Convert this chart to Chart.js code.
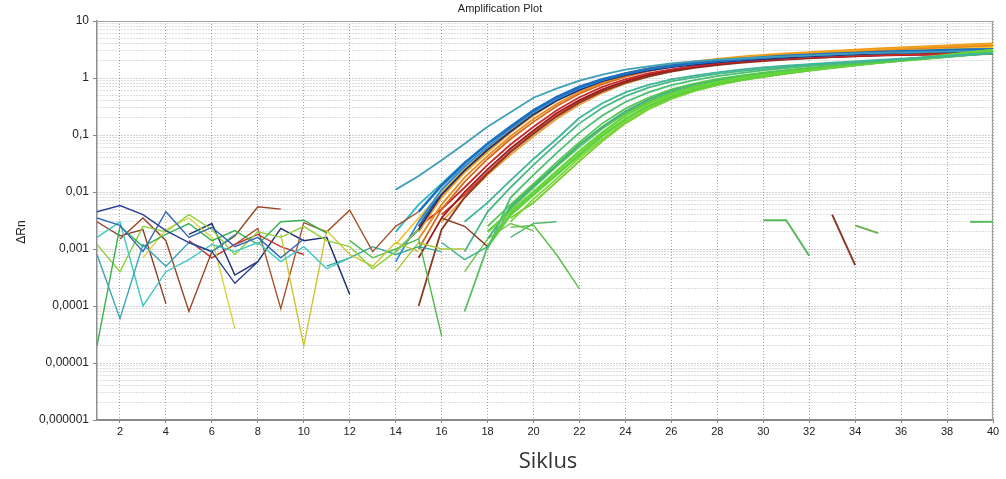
<!DOCTYPE html>
<html>
<head>
<meta charset="utf-8">
<script src="https://cdn.jsdelivr.net/npm/chart.js@4"></script>
<style>
  html,body{margin:0;padding:0;background:#fff;}
  #wrap{position:relative;width:1006px;height:479px;}
</style>
</head>
<body>
<div id="wrap"><canvas id="plot"></canvas></div>
<script>
/* ===== data ===== */
const xTicks = [2,4,6,8,10,12,14,16,18,20,22,24,26,28,30,32,34,36,38,40];
const yTickValues = [1e-6,1e-5,1e-4,1e-3,0.01,0.1,1,10];
const yTickLabels = ['0,000001','0,00001','0,0001','0,001','0,01','0,1','1','10'];

// baseline noise (start cycle + values, null = no point)
const noiseStart = [1,1,1,1,1,1,3,9,1,2,7,5,5,11,12,14,16,16,19,17,19];
const noiseValues = [
  [0.0045,0.0058,0.004,0.0021,0.0013,0.0009,0.00025,0.0006],
  [0.0035,0.0026,0.0009,0.0045,0.0016,0.0024,0.0011,0.0016,0.0007,0.0015],
  [0.0008,0.00006,0.0012,0.0005,0.0013,0.0009,0.0018],
  [0.0016,0.003,0.0001,0.0004,0.00065,0.0012,0.0009,0.0013,0.0006,0.0011,0.00045,0.0007],
  [0.00002,0.0025,0.0011,0.0018,0.0028,0.0014,0.0021,0.0012,0.003,0.0032,0.0019],
  [0.0012,0.0004,0.0025,0.002,0.004,0.0022,0.0008,0.002,0.0016,0.0025,0.0014,0.0011,0.00045,0.0009,0.0022],
  [0.0007,0.0022,0.0035,0.0016,0.00004],
  [0.0018,0.00002,0.0021,0.0008,0.0005,0.0013,0.0009],
  [0.003,0.0017,0.0022,0.00011],
  [0.0015,0.0035,0.0014,0.00008,0.0009,0.0017,0.0055,0.005],
  [0.0012,0.0023,0.00009,0.0029,0.002,0.0048,0.0009,0.0025,0.0045],
  [0.0014,0.0007,0.0012,0.0018,0.0011,0.0008],
  [0.0018,0.0028,0.00035,0.0006,0.0023,0.0014,0.0016,0.00016],
  [0.0005,0.0007,0.0011,0.0008,0.0011,0.0009],
  [0.0014,0.0007,0.001,0.0015,0.00003],
  [0.0004,0.0013,0.001,0.001],
  [0.0013,0.00065,0.0011],
  [0.0035,0.0025,0.0011],
  [0.0024,0.0026,0.0008,0.0002],
  [0.0004,0.0015,0.0028,0.0021],
  [0.0016,0.0028,0.003]
];
const noiseColors = ['#2a3f99','#3367b8','#3aa3b5','#3fc9c2','#36b24e','#8fd13f','#d9d33a','#c9c52e','#8c3b28','#9a4424',
  '#a5522c','#c23434','#1f2f70','#2fa897','#4fb84a','#a8c83a','#3db58a','#8a3a26','#5bbf45','#6cc448','#52b870'];

// late fragments after the curves have plateaued
const tailStart = [30,33,34,39];
const tailValues = [[0.0032,0.0032,0.00076],[0.004,0.00052],[0.0026,0.0019],[0.003,0.003]];
const tailColors = ['#5cb85c','#8b3a2a','#6ab04c','#5cb85c'];

// late (green) amplification curves
const lateStart = [17,17,18,18,18,18,19,18,19,17];
const lateValues = [
  [0.003,0.0065,0.016,0.038,0.085,0.2,0.36,0.56,0.76,0.95,1.1,1.25,1.4,1.53,1.64,1.75,1.85,1.96,2.07,2.18,2.3,2.43,2.57,2.72],
  [0.0009,0.0045,0.012,0.03,0.07,0.16,0.3,0.48,0.68,0.87,1.03,1.18,1.32,1.45,1.57,1.68,1.79,1.9,2.02,2.14,2.27,2.41,2.56,2.72],
  [0.001,0.008,0.02,0.048,0.11,0.22,0.38,0.56,0.75,0.92,1.08,1.22,1.36,1.49,1.61,1.73,1.85,1.98,2.12,2.27,2.43,2.6,2.78],
  [0.0025,0.006,0.014,0.033,0.075,0.16,0.29,0.45,0.63,0.8,0.96,1.1,1.24,1.37,1.5,1.63,1.76,1.9,2.05,2.21,2.38,2.56,2.75],
  [0.002,0.0045,0.01,0.023,0.052,0.11,0.22,0.36,0.52,0.69,0.85,1.0,1.14,1.28,1.42,1.56,1.71,1.87,2.04,2.22,2.42,2.64,2.88],
  [0.0011,0.004,0.009,0.02,0.045,0.097,0.19,0.32,0.47,0.63,0.79,0.94,1.08,1.22,1.37,1.52,1.68,1.85,2.03,2.23,2.45,2.7,2.98],
  [0.003,0.0075,0.017,0.04,0.085,0.17,0.29,0.44,0.6,0.76,0.91,1.05,1.2,1.35,1.51,1.68,1.86,2.06,2.28,2.52,2.8,3.1],
  [0.0015,0.0055,0.013,0.03,0.068,0.14,0.26,0.42,0.6,0.77,0.93,1.08,1.22,1.35,1.48,1.61,1.74,1.88,2.03,2.19,2.36,2.55,2.75],
  [0.0035,0.0065,0.015,0.035,0.078,0.16,0.28,0.43,0.59,0.75,0.9,1.05,1.2,1.36,1.53,1.71,1.9,2.1,2.32,2.56,2.83,3.15],
  [0.00008,0.0011,0.005,0.012,0.028,0.062,0.13,0.24,0.39,0.56,0.72,0.88,1.03,1.17,1.3,1.43,1.56,1.7,1.84,1.99,2.15,2.33,2.52,2.72]
];
const lateColors = ['#3fb59a','#48b884','#4cbf70','#55c850','#66d63a','#5fd03c','#72d835','#3dae7a','#7ccc30','#58c060'];

// early amplification bundle
const earlyStart = [14,15,14,14,14,15,15,14,15,15,15,15,16,16,15,15];
const earlyValues = [
  [0.011,0.019,0.036,0.07,0.14,0.25,0.45,0.65,0.9,1.15,1.4,1.6,1.8,1.95,2.1,2.2,2.3,2.4,2.5,2.6,2.7,2.75,2.8,2.85,2.9,2.95,3.0],
  [0.0045,0.013,0.032,0.07,0.14,0.27,0.46,0.7,0.95,1.2,1.45,1.65,1.85,2.0,2.15,2.3,2.45,2.55,2.65,2.75,2.85,2.95,3.0,3.1,3.15,3.2],
  [0.0006,0.003,0.011,0.028,0.062,0.13,0.25,0.43,0.66,0.92,1.18,1.42,1.62,1.8,1.95,2.1,2.25,2.4,2.5,2.6,2.7,2.8,2.9,2.95,3.0,3.05,3.1],
  [0.0009,0.0022,0.009,0.024,0.055,0.115,0.23,0.4,0.62,0.88,1.12,1.35,1.55,1.72,1.88,2.02,2.15,2.28,2.4,2.5,2.6,2.68,2.75,2.82,2.88,2.92,2.95],
  [0.002,0.006,0.014,0.033,0.07,0.14,0.27,0.45,0.68,0.93,1.18,1.4,1.6,1.78,1.92,2.05,2.18,2.3,2.4,2.5,2.6,2.7,2.78,2.85,2.92,2.98,3.05],
  [0.002,0.008,0.022,0.05,0.11,0.22,0.4,0.63,0.9,1.18,1.45,1.7,1.92,2.12,2.3,2.45,2.6,2.75,2.9,3.05,3.2,3.35,3.5,3.65,3.8,3.95],
  [0.0015,0.006,0.018,0.043,0.095,0.19,0.35,0.57,0.83,1.1,1.38,1.62,1.85,2.05,2.22,2.38,2.52,2.66,2.8,2.93,3.06,3.2,3.33,3.46,3.6,3.75],
  [0.0012,0.0035,0.01,0.026,0.058,0.12,0.24,0.42,0.65,0.92,1.2,1.46,1.7,1.9,2.08,2.24,2.38,2.5,2.62,2.74,2.85,2.96,3.07,3.18,3.28,3.38,3.48],
  [0.001,0.005,0.015,0.038,0.085,0.17,0.32,0.53,0.78,1.05,1.32,1.57,1.8,2.0,2.18,2.34,2.48,2.62,2.76,2.9,3.03,3.16,3.3,3.44,3.58,3.7],
  [0.0025,0.005,0.012,0.03,0.068,0.14,0.27,0.46,0.7,0.95,1.2,1.42,1.62,1.8,1.95,2.08,2.2,2.3,2.38,2.45,2.52,2.57,2.61,2.64,2.67,2.7],
  [0.0007,0.0035,0.01,0.025,0.058,0.12,0.24,0.41,0.63,0.88,1.13,1.36,1.56,1.74,1.9,2.03,2.15,2.25,2.33,2.4,2.46,2.51,2.55,2.58,2.61,2.63],
  [0.0001,0.0022,0.008,0.021,0.05,0.105,0.21,0.37,0.58,0.82,1.06,1.3,1.5,1.68,1.84,1.98,2.1,2.22,2.32,2.42,2.5,2.58,2.65,2.72,2.78,2.85],
  [0.004,0.009,0.022,0.052,0.11,0.22,0.39,0.61,0.86,1.12,1.37,1.6,1.8,1.98,2.14,2.28,2.4,2.52,2.63,2.73,2.83,2.92,3.0,3.08,3.15],
  [0.003,0.008,0.02,0.045,0.095,0.19,0.34,0.55,0.8,1.06,1.32,1.56,1.78,1.98,2.16,2.32,2.47,2.61,2.75,2.88,3.0,3.12,3.24,3.36,3.48],
  [0.0025,0.01,0.027,0.06,0.125,0.25,0.44,0.68,0.94,1.2,1.44,1.65,1.83,1.99,2.13,2.26,2.38,2.49,2.59,2.68,2.76,2.84,2.91,2.97,3.03,3.08],
  [0.003,0.009,0.024,0.055,0.115,0.23,0.41,0.64,0.91,1.19,1.47,1.73,1.96,2.17,2.36,2.53,2.69,2.85,3.0,3.15,3.3,3.45,3.6,3.75,3.9,4.05]
];
const earlyColors = ['#3f9fb8','#1e6fc0','#2b8fd8','#22307a','#30b8c8','#f0a020','#e88a1a','#f2c230','#d2691e','#c8282a',
  '#9b1c1c','#8b3a22','#d63a2a','#e8a040','#1a5fb0','#f39c12'];

/* ===== datasets ===== */
function series(start, values, color, width){
  return {
    data: values.map((v,i)=>({x:start+i, y:v})),
    borderColor: color, backgroundColor: color, borderWidth: width,
    pointRadius: 0, tension: 0, spanGaps: false, fill: false
  };
}
const datasets = [];
noiseValues.forEach((vals,i)=> datasets.push(series(noiseStart[i], vals, noiseColors[i], 1.4)));
tailValues.forEach((vals,i)=> datasets.push(series(tailStart[i], vals, tailColors[i], 2)));
lateValues.forEach((vals,i)=> datasets.push(series(lateStart[i], vals, lateColors[i], i===4||i===5 ? 2.6 : 1.8)));
earlyValues.forEach((vals,i)=> datasets.push(series(earlyStart[i], vals, earlyColors[i], i===1 ? 2.6 : 1.8)));

/* ===== frame + texts ===== */
const decorations = {
  id: 'decorations',
  beforeDatasetsDraw(chart){
    const {ctx, chartArea:a} = chart;
    ctx.save();
    ctx.strokeStyle = '#a0a0a0'; ctx.lineWidth = 1.2;
    ctx.beginPath();
    ctx.moveTo(a.left, a.top + 0.5);
    ctx.lineTo(a.right - 0.5, a.top + 0.5);
    ctx.lineTo(a.right - 0.5, a.bottom);
    ctx.stroke();
    ctx.restore();
  },
  afterDraw(chart){
    const {ctx} = chart;
    ctx.save();
    ctx.fillStyle = '#222';
    ctx.textAlign = 'center'; ctx.textBaseline = 'middle';
    ctx.font = '11px "Liberation Sans", Arial, sans-serif';
    ctx.fillText('Amplification Plot', 500, 9);
    ctx.fillStyle = '#333';
    ctx.font = '22px "Open Sans", "Liberation Sans", sans-serif';
    ctx.fillText('Siklus', 548, 462);
    ctx.translate(22, 232); ctx.rotate(-Math.PI/2);
    ctx.fillStyle = '#222';
    ctx.font = '12px "Liberation Sans", Arial, sans-serif';
    ctx.fillText('ΔRn', 0, 0);
    ctx.restore();
  }
};

function isDecade(v){ return yTickValues.some(t => Math.abs(Math.log10(v) - Math.log10(t)) < 1e-6); }

Chart.defaults.font.family = '"Liberation Sans", Arial, sans-serif';
new Chart(document.getElementById('plot'), {
  type: 'line',
  data: { datasets },
  options: {
    responsive: true, maintainAspectRatio: false, animation: false,
    layout: { padding: { top: 21, right: 13, left: 0, bottom: 0 } },
    plugins: { legend: { display: false }, tooltip: { enabled: false } },
    scales: {
      x: {
        type: 'linear', min: 1, max: 40,
        afterBuildTicks: s => { s.ticks = xTicks.map(v => ({value: v})); },
        afterFit: s => { s.height = 59; },
        ticks: { autoSkip: false, maxRotation: 0, padding: 2, color: '#222', font: { size: 11 } },
        grid: { color: 'rgba(0,0,0,0.34)', tickColor: '#888', tickLength: 3, lineWidth: 1 },
        border: { color: '#8a8a8a', width: 2, dash: [1,2] }
      },
      y: {
        type: 'logarithmic', min: 1e-6, max: 10,
        afterBuildTicks: s => {
          const t = [];
          for (let e = -6; e < 1; e++) for (let k = 1; k <= 9; k++) t.push({value: k * Math.pow(10, e)});
          t.push({value: 10});
          s.ticks = t;
        },
        afterFit: s => { s.width = 97; },
        ticks: {
          autoSkip: false, padding: 4, color: '#222', font: { size: 12 },
          callback: v => { const i = yTickValues.findIndex(t => Math.abs(Math.log10(v) - Math.log10(t)) < 1e-6); return i >= 0 ? yTickLabels[i] : ''; }
        },
        grid: {
          color: c => isDecade(c.tick.value) ? 'rgba(0,0,0,0.36)' : 'rgba(0,0,0,0.27)',
          tickColor: c => isDecade(c.tick.value) ? '#888' : 'rgba(0,0,0,0)',
          tickLength: 4, lineWidth: 1
        },
        border: { color: '#8f8f8f', width: 1.5, dash: [1,2] }
      }
    }
  },
  plugins: [decorations]
});
</script>
</body>
</html>
